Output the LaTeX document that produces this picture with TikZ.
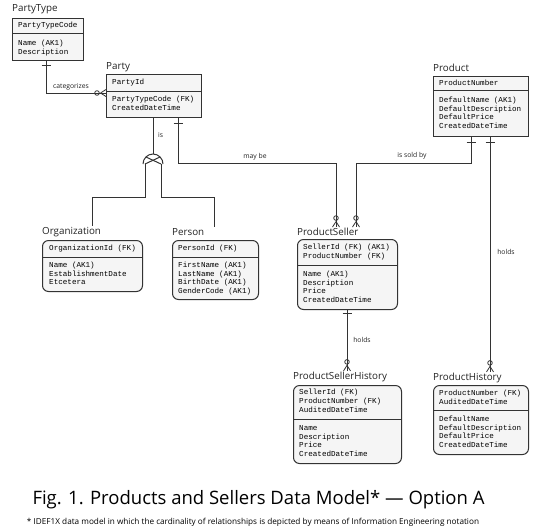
\documentclass[tikz,border=0pt]{standalone}
\usepackage{fontspec}
\setmainfont{Open Sans}
\newfontfamily\monofam{Liberation Mono}
\usetikzlibrary{calc}
\definecolor{linec}{HTML}{333333}
\definecolor{boxfill}{HTML}{F5F5F5}
\definecolor{txtc}{HTML}{222222}
\newcommand\monof{\monofam\fontsize{7.6}{8.7}\selectfont}
\newcommand\labf{\fontsize{9.8}{11}\selectfont}
\newcommand\relf{\fontsize{6.8}{8}\selectfont}
\newcommand\rowsof[5]{%
  \foreach \t [count=\i] in {#5} {\node[mono] (#1\i) at (#2, {#3+#4*(\i-1)+2.4}) {\t};}}
\tikzset{
  ent/.style={draw=linec, fill=boxfill, line width=1pt, anchor=north west, inner sep=0pt},
  depent/.style={ent, rounded corners=6pt},
  mono/.style={font=\monof, anchor=base west, inner sep=0pt, text=black},
  elabel/.style={font=\labf, anchor=west, inner sep=1pt, text=txtc},
  rlabel/.style={font=\relf, inner sep=1pt, text=txtc},
  conn/.style={draw=linec, line width=1pt},
  divl/.style={draw=linec, line width=1pt},
  zmany/.pic={
    \draw[conn, line width=0.8pt] (-9,0) circle[radius=2.3];
    \draw[conn, line width=0.8pt] (-5.5,0) -- (0,3.5) (-5.5,0) -- (0,-3.5);
  },
  onebar/.pic={\draw[conn] (0,-4.5) -- (0,4.5);}
}
\begin{document}
\begin{tikzpicture}[x=1pt,y=-1pt]
\useasboundingbox (0,0) rectangle (540,531);

% ---------- PartyType ----------
\node[elabel] (ptypel) at (11,9) {PartyType};
\node[ent, minimum width=71pt, minimum height=42pt] (ptype) at (12,18) {};
\draw[divl] (ptype.west |- 0,33) -- (ptype.east |- 0,33);
\rowsof{ptypeh}{18}{25}{8.7}{PartyTypeCode}
\rowsof{ptypeb}{18}{43}{8.7}{Name (AK1),Description}

% ---------- Party ----------
\node[elabel] (partyl) at (105,67) {Party};
\node[ent, minimum width=95pt, minimum height=43pt] (party) at (106,74) {};
\draw[divl] (party.west |- 0,91) -- (party.east |- 0,91);
\rowsof{partyh}{112}{82}{8.7}{PartyId}
\rowsof{partyb}{112}{99}{9.3}{PartyTypeCode (FK),CreatedDateTime}

% ---------- Product ----------
\node[elabel] (prodl) at (432,68) {Product};
\node[ent, minimum width=95pt, minimum height=60pt] (prod) at (433,76) {};
\draw[divl] (prod.west |- 0,90) -- (prod.east |- 0,90);
\rowsof{prodh}{439}{83}{8.7}{ProductNumber}
\rowsof{prodb}{439}{100}{8.7}{DefaultName (AK1),DefaultDescription,DefaultPrice,CreatedDateTime}

% ---------- Organization ----------
\node[elabel] (orgl) at (41,232) {Organization};
\node[depent, minimum width=100pt, minimum height=51pt] (org) at (42,240) {};
\draw[divl] (org.west |- 0,257) -- (org.east |- 0,257);
\rowsof{orgh}{49}{248}{8.7}{OrganizationId (FK)}
\rowsof{orgb}{49}{265}{8.7}{Name (AK1),EstablishmentDate,Etcetera}

% ---------- Person ----------
\node[elabel] (perl) at (171,232) {Person};
\node[depent, minimum width=86pt, minimum height=59pt] (per) at (172,240) {};
\draw[divl] (per.west |- 0,257) -- (per.east |- 0,257);
\rowsof{perh}{178}{248}{8.7}{PersonId (FK)}
\rowsof{perb}{178}{265}{8.7}{FirstName (AK1),LastName (AK1),BirthDate (AK1),GenderCode (AK1)}

% ---------- ProductSeller ----------
\node[elabel] (psl) at (296,232) {ProductSeller};
\node[depent, minimum width=100pt, minimum height=70pt] (ps) at (297,239) {};
\draw[divl] (ps.west |- 0,265) -- (ps.east |- 0,265);
\rowsof{psh}{303}{247}{8.7}{SellerId (FK) (AK1),ProductNumber (FK)}
\rowsof{psb}{303}{274}{8.7}{Name (AK1),Description,Price,CreatedDateTime}

% ---------- ProductSellerHistory ----------
\node[elabel] (pshl) at (292,377) {ProductSellerHistory};
\node[depent, minimum width=108pt, minimum height=78pt] (psh) at (293,385) {};
\draw[divl] (psh.west |- 0,419) -- (psh.east |- 0,419);
\rowsof{pshh}{299}{392}{8.9}{SellerId (FK),ProductNumber (FK),AuditedDateTime}
\rowsof{pshb}{299}{428}{8.7}{Name,Description,Price,CreatedDateTime}

% ---------- ProductHistory ----------
\node[elabel] (phl) at (432,378) {ProductHistory};
\node[depent, minimum width=95pt, minimum height=69pt] (ph) at (433,385) {};
\draw[divl] (ph.west |- 0,410) -- (ph.east |- 0,410);
\rowsof{phh}{439}{393}{8.7}{ProductNumber (FK),AuditedDateTime}
\rowsof{phb}{439}{419}{8.7}{DefaultName,DefaultDescription,DefaultPrice,CreatedDateTime}

% ---------- categorizes ----------
\draw[conn] (ptype.south -| 46,0) |- (party.west |- 0,93);
\pic at (46,65) [rotate=90] {onebar};
\pic at (party.west |- 0,93) {zmany};
\node[rlabel] (lcat) at (71,87) {categorizes};

% ---------- is (categorization) ----------
\coordinate (subc) at (153,164);
\draw[conn] (party.south -| 153,0) -- (153,154);
\draw[conn] ($(subc)+(-10,0)$) arc[start angle=180, end angle=360, radius=10];
\draw[conn] ($(subc)+(-8,0)$) -- ($(subc)+(7,-7)$);
\draw[conn] ($(subc)+(8,0)$) -- ($(subc)+(-7,-7)$);
\draw[conn] ($(subc)+(-8,0)$) |- (92,197) -- (orgl.north -| 92,0);
\draw[conn] ($(subc)+(8,0)$) |- (214,197) -- (perl.north -| 214,0);
\node[rlabel, anchor=west] (lis) at (157,135) {is};

% ---------- may be ----------
\draw[conn] (party.south -| 178,0) |- (336,163) -- (psl.north -| 336,0);
\pic at (178,123) [rotate=90] {onebar};
\pic at (psl.north -| 336,0) [rotate=-90] {zmany};
\node[rlabel] (lmay) at (255,157) {may be};

% ---------- is sold by ----------
\draw[conn] (prod.south -| 471,0) |- (356,163) -- (psl.north -| 356,0);
\pic at (471,142) [rotate=90] {onebar};
\pic at (psl.north -| 356,0) [rotate=-90] {zmany};
\node[rlabel] (lsold) at (412,156) {is sold by};

% ---------- holds (Product -> ProductHistory) ----------
\draw[conn] (prod.south -| 490,0) -- (phl.north -| 490,0);
\pic at (490,142) [rotate=90] {onebar};
\pic at (phl.north -| 490,0) [rotate=-90] {zmany};
\node[rlabel] (lholds1) at (506,252) {holds};

% ---------- holds (ProductSeller -> ProductSellerHistory) ----------
\draw[conn] (ps.south -| 347,0) -- (pshl.north -| 347,0);
\pic at (347,313) [rotate=90] {onebar};
\pic at (pshl.north -| 347,0) [rotate=-90] {zmany};
\node[rlabel] (lholds2) at (362,340) {holds};

% ---------- caption ----------
\node[font=\fontsize{18.5}{22}\selectfont, text=black, inner sep=0] (title) at (258.5,500) {Fig. 1. Products and Sellers Data Model* — Option A};
\node[font=\fontsize{8.2}{10}\selectfont, text=black, inner sep=0] (sub) at (253,522) {* IDEF1X data model in which the cardinality of relationships is depicted by means of Information Engineering notation};
\end{tikzpicture}
\end{document}
